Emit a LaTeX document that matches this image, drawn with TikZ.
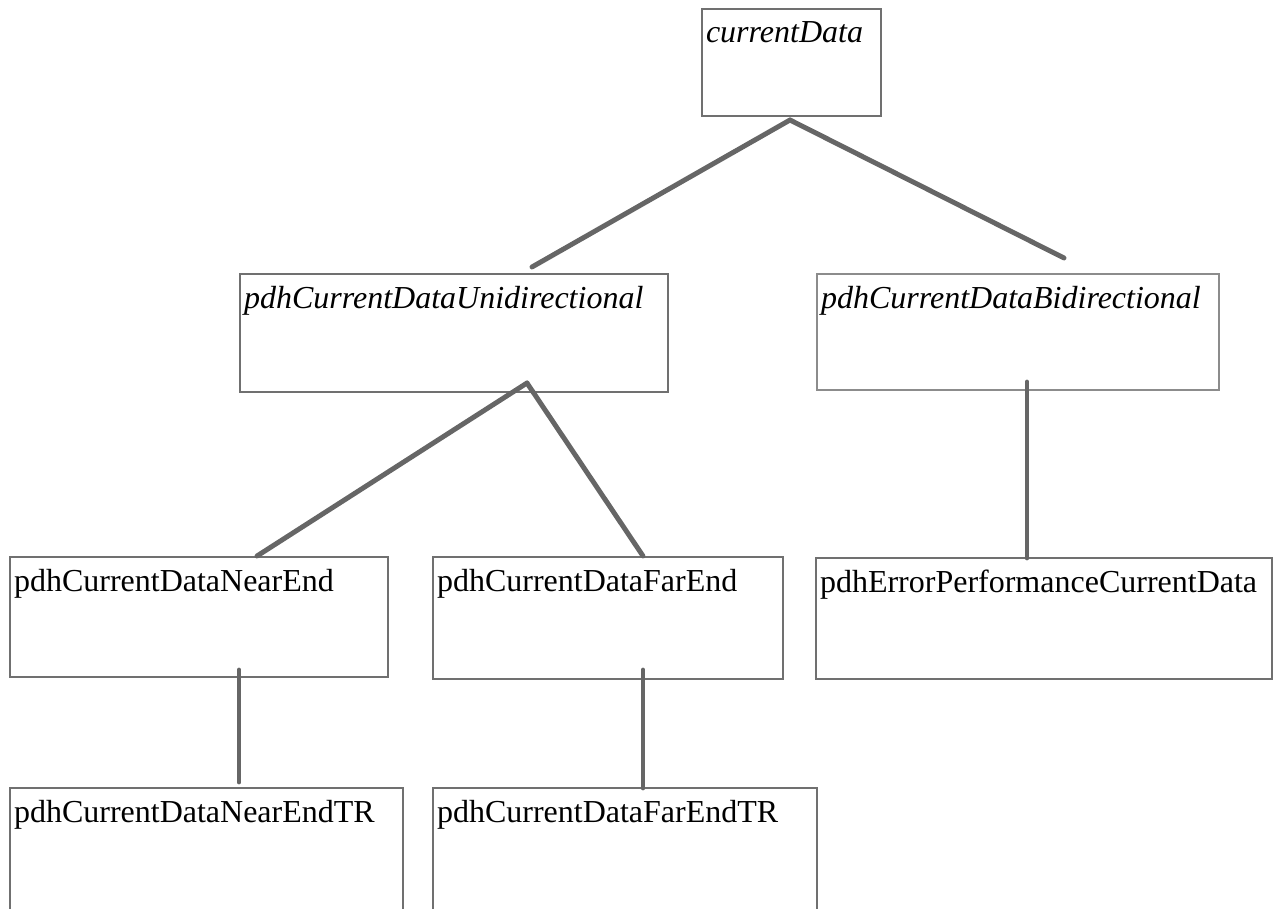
\documentclass[tikz,border=0pt]{standalone}
\usepackage{fontspec}
\setmainfont{Liberation Serif}
\definecolor{boxgray}{HTML}{707070}
\definecolor{linkgray}{HTML}{666666}
\definecolor{thingray}{HTML}{8C8C8C}
\begin{document}
\begin{tikzpicture}
[x=0.75pt,y=-0.75pt,
box/.style = {draw=boxgray, line width=2pt, anchor=north west, inner xsep=3pt, inner ysep=0pt, outer sep=0pt, text height=25.5pt, align=left, font=\fontsize{24pt}{28pt}\selectfont},
link/.style = {draw=linkgray, line width=3.7pt, line cap=round},]

\useasboundingbox (0,0) rectangle (1277,909);
\clip (0,0) rectangle (1277,909);

\node (cd) at (702,9)[box, text width=128.25pt, text depth=54.75pt] {\itshape currentData};
\node (uni) at (240,274)[box, text width=315pt, text depth=63pt] {\itshape pdhCurrentDataUnidirectional};
\node (bi) at (817,274)[box, draw=thingray, line width=0.8pt, text width=295.5pt, text depth=61.5pt] {\itshape pdhCurrentDataBidirectional};
\node (near) at (10,557)[box, text width=277.5pt, text depth=64.5pt] {pdhCurrentDataNearEnd};
\node (far) at (433,557)[box, text width=256.5pt, text depth=66pt] {pdhCurrentDataFarEnd};
\node (err) at (816,558)[box, text width=336pt, text depth=65.25pt] {pdhErrorPerformanceCurrentData};
\node (nearTR) at (10,788)[box, text width=288.75pt, text depth=79.5pt] {pdhCurrentDataNearEndTR};
\node (farTR) at (433,788)[box, text width=282pt, text depth=79.5pt] {pdhCurrentDataFarEndTR};

\coordinate (cdJoin) at (790,120);
\coordinate (uniIn) at (532,267);
\coordinate (biIn) at (1064,258);
\coordinate (uniJoin) at (527,383);
\coordinate (nearIn) at (257,556);
\coordinate (farIn) at (643,556);
\coordinate (biJoin) at (1027,382);
\coordinate (errIn) at (1027,558);
\coordinate (nearJoin) at (239,670);
\coordinate (nearTRIn) at (239,782);
\coordinate (farJoin) at (643,670);
\coordinate (farTRIn) at (643,788);

\draw[link] (cdJoin)--(uniIn);
\draw[link] (cdJoin)--(biIn);
\draw[link] (uniJoin)--(nearIn);
\draw[link] (uniJoin)--(farIn);
\draw[link] (biJoin)--(errIn);
\draw[link] (nearJoin)--(nearTRIn);
\draw[link] (farJoin)--(farTRIn);
\end{tikzpicture}
\end{document}
